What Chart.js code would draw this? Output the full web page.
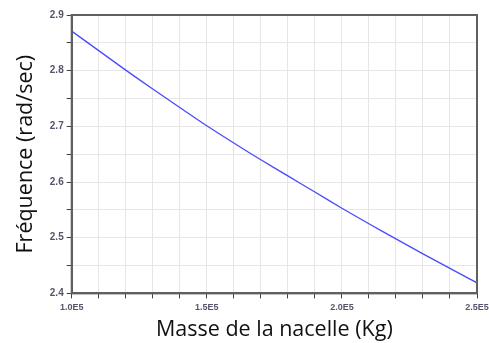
<!DOCTYPE html>
<html>
<head>
<meta charset="utf-8">
<script src="https://cdn.jsdelivr.net/npm/chart.js@4"></script>
<style>
    body { margin: 0; background: #fff; }
    #wrap { width: 489px; height: 343px; }
</style>
</head>
<body>
<div id="wrap"><canvas id="freqChart"></canvas></div>
<script>
// Masse de la nacelle (kg) et fréquence correspondante (rad/sec)
const masses = [100000, 110000, 120000, 130000, 140000, 150000, 160000, 170000,
                180000, 190000, 200000, 210000, 220000, 230000, 240000, 250000];
const frequences = [2.871, 2.836, 2.801, 2.767, 2.734, 2.701, 2.670, 2.640,
                    2.611, 2.582, 2.553, 2.525, 2.498, 2.471, 2.445, 2.419];

// Graduations
const xMin = 100000, xMax = 250000, xStep = 10000, xLabelEvery = 50000;
const yMin = 2.4, yMax = 2.9, yStep = 0.05;

const points = masses.map((m, i) => ({ x: m, y: frequences[i] }));

// Cadre gris autour de la zone de tracé
const framePlugin = {
    id: 'frame',
    afterDraw(chart) {
        const a = chart.chartArea;
        const ctx = chart.ctx;
        ctx.save();
        ctx.strokeStyle = '#606060';
        ctx.lineWidth = 2;
        ctx.strokeRect(a.left, a.top, a.right - a.left, a.bottom - a.top);
        ctx.restore();
    }
};

const ctx = document.getElementById('freqChart').getContext('2d');
const freqChart = new Chart(ctx, {
    type: 'scatter',
    data: {
        datasets: [{
            label: 'Fréquence',
            data: points,
            showLine: true,
            borderColor: '#4a4aff',
            borderWidth: 1.3,
            pointRadius: 0,
            tension: 0.3
        }]
    },
    options: {
        responsive: true,
        maintainAspectRatio: false,
        animation: false,
        layout: {
            padding: { left: 13, right: 0, top: 15, bottom: 0 }
        },
        plugins: {
            legend: { display: false },
            tooltip: { enabled: false }
        },
        scales: {
            x: {
                type: 'linear',
                min: xMin,
                max: xMax,
                // le dernier libellé peut déborder un peu à droite
                afterFit: function(scale) {
                    scale.paddingRight = 12;
                },
                grid: {
                    color: '#e6e6e6',
                    tickColor: '#404040',
                    tickLength: 5,
                    lineWidth: 1
                },
                border: { color: '#606060', width: 2 },
                ticks: {
                    stepSize: xStep,
                    autoSkip: false,
                    maxRotation: 0,
                    padding: 4,
                    color: '#55556a',
                    font: { family: 'Liberation Sans', size: 9, weight: 'bold' },
                    callback: function(value) {
                        if (value % xLabelEvery !== 0) return '';
                        return (value / 100000).toFixed(1) + 'E5';
                    }
                },
                title: {
                    display: true,
                    text: 'Masse de la nacelle (Kg)',
                    color: '#111',
                    font: { family: 'Open Sans', size: 21.5 },
                    padding: { top: 0, bottom: 0 }
                }
            },
            y: {
                min: yMin,
                max: yMax,
                grid: {
                    color: '#e6e6e6',
                    tickColor: '#404040',
                    tickLength: 5,
                    lineWidth: 1
                },
                border: { color: '#606060', width: 2 },
                ticks: {
                    stepSize: yStep,
                    autoSkip: false,
                    padding: 3,
                    color: '#55556a',
                    font: { family: 'Liberation Sans', size: 10, weight: 'bold' },
                    callback: function(value) {
                        const d = value * 10;
                        if (Math.abs(d - Math.round(d)) > 1e-6) return '';
                        return value.toFixed(1);
                    }
                },
                title: {
                    display: true,
                    text: 'Fréquence (rad/sec)',
                    color: '#111',
                    font: { family: 'Open Sans', size: 21.5 },
                    padding: { top: 0, bottom: 8 }
                }
            }
        }
    },
    plugins: [framePlugin]
});
</script>
</body>
</html>
